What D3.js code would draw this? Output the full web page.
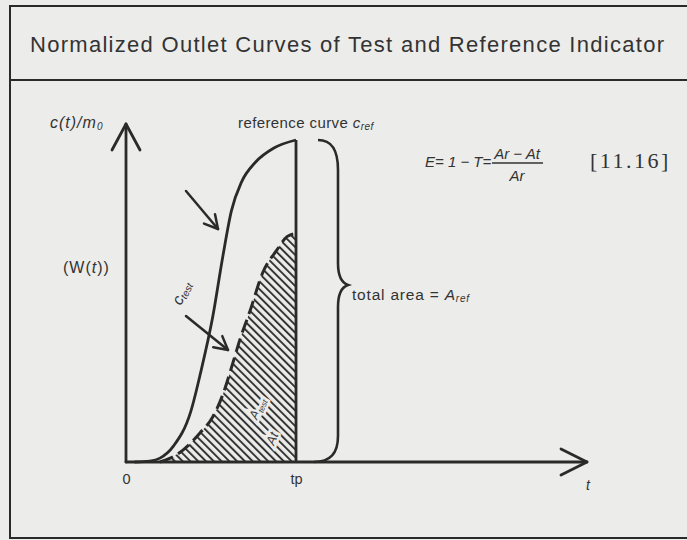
<!DOCTYPE html>
<html>
<head>
<meta charset="utf-8">
<script src="https://cdn.jsdelivr.net/npm/d3@7"></script>
<style>
  body { margin: 0; background: #ececea; }
  svg { display: block; }
</style>
</head>
<body>
<svg id="chart" width="687" height="540"></svg>
<script>
// Normalised time (t / tp) and normalised concentration of the reference indicator
const refT = [0.05, 0.14, 0.20, 0.28, 0.38, 0.44, 0.51, 0.57, 0.62, 0.68, 0.76, 0.87, 1.00];
const refV = [0.00, 0.003, 0.012, 0.05, 0.155, 0.28, 0.45, 0.64, 0.78, 0.87, 0.93, 0.975, 1.00];

// Same for the test indicator (dashed, hatched area)
const testT = [0.20, 0.26, 0.335, 0.435, 0.51, 0.57, 0.63, 0.67, 0.73, 0.806, 0.89, 0.947, 1.00];
const testV = [0.00, 0.012, 0.037, 0.09, 0.14, 0.21, 0.31, 0.38, 0.47, 0.59, 0.66, 0.70, 0.71];

const tickValues = [0, 1];
const tickLabels = ["0", "tp"];

const titleText = "Normalized Outlet Curves of Test and Reference Indicator";

const svg = d3.select("#chart");
const ink = "#2a2a2a";
const bg = "#ececea";
const sans = "Liberation Sans, Arial, sans-serif";

// Frame and title panel
svg.append("rect").attr("width", 687).attr("height", 540).attr("fill", bg);
const frame = svg.append("g").attr("stroke", ink).attr("stroke-width", 2).attr("fill", "none");
frame.append("path").attr("d", "M700,6 L10,6 L10,538 L700,538");
frame.append("line").attr("x1", 10).attr("x2", 700).attr("y1", 80).attr("y2", 80);

svg.append("text")
  .attr("x", 30).attr("y", 52)
  .attr("font-family", sans)
  .attr("font-size", 22)
  .attr("textLength", 634).attr("lengthAdjust", "spacing")
  .attr("fill", "#333")
  .text(titleText);

// Scales: t in units of tp, concentration normalised to the reference peak
const x = d3.scaleLinear().domain([0, 1]).range([126, 296]);
const y = d3.scaleLinear().domain([0, 1]).range([462, 140]);
const tMax = x.invert(587);
const vMax = y.invert(124);

const refData = refT.map((t, i) => [t, refV[i]]);
const testData = testT.map((t, i) => [t, testV[i]]);

// Hatch pattern for the area under the test curve
const defs = svg.append("defs");
const pat = defs.append("pattern")
  .attr("id", "hatch").attr("patternUnits", "userSpaceOnUse")
  .attr("width", 5.5).attr("height", 5.5)
  .attr("patternTransform", "rotate(-45)");
pat.append("line").attr("x1", 1).attr("y1", 0).attr("x2", 1).attr("y2", 5.5)
  .attr("stroke", "#2e2e2e").attr("stroke-width", 1.9);

const area = d3.area()
  .x(d => x(d[0])).y0(y(0)).y1(d => y(d[1]))
  .curve(d3.curveMonotoneX);
svg.append("path").datum(testData).attr("d", area).attr("fill", "url(#hatch)");

// Labels knocked out of the hatching
const knock = svg.append("g")
  .attr("font-family", sans)
  .attr("font-style", "italic")
  .attr("fill", "#3a3a3a")
  .attr("stroke", bg).attr("stroke-width", 5).attr("paint-order", "stroke");
const k1 = knock.append("text").attr("transform", `translate(${x(0.77)},${y(0.13)}) rotate(-68)`).attr("font-size", 13);
k1.append("tspan").text("A");
k1.append("tspan").attr("font-size", 8).attr("dy", 3).text("test");
knock.append("text").attr("transform", `translate(${x(0.87)},${y(0.05)}) rotate(-68)`)
  .attr("font-size", 13).text("At");

// Curves
const line = d3.line().x(d => x(d[0])).y(d => y(d[1])).curve(d3.curveMonotoneX);
svg.append("path").datum(refData).attr("d", line)
  .attr("fill", "none").attr("stroke", ink).attr("stroke-width", 2.8);
svg.append("path").datum(testData).attr("d", line)
  .attr("fill", "none").attr("stroke", ink).attr("stroke-width", 3)
  .attr("stroke-dasharray", "14 6");

// tp ordinate
svg.append("line")
  .attr("x1", x(1)).attr("x2", x(1)).attr("y1", y(0)).attr("y2", y(1))
  .attr("stroke", ink).attr("stroke-width", 2.8);

// Axes with open arrow heads
const axes = svg.append("g").attr("stroke", ink).attr("stroke-width", 2.8)
  .attr("fill", "none").attr("stroke-linecap", "round").attr("stroke-linejoin", "round");
axes.append("line").attr("x1", x(0)).attr("x2", x(0)).attr("y1", y(0)).attr("y2", y(vMax));
axes.append("path").attr("d", `M${x(0) - 14},${y(vMax) + 26} L${x(0)},${y(vMax)} L${x(0) + 14},${y(vMax) + 26}`);
axes.append("line").attr("x1", x(0)).attr("x2", x(tMax)).attr("y1", y(0)).attr("y2", y(0));
axes.append("path").attr("d", `M${x(tMax) - 26},${y(0) - 13} L${x(tMax)},${y(0)} L${x(tMax) - 26},${y(0) + 13}`);

const xAxis = d3.axisBottom(x).tickValues(tickValues)
  .tickFormat((d, i) => tickLabels[i]).tickSize(0).tickPadding(12);
const gx = svg.append("g").attr("transform", `translate(0,${y(0)})`).call(xAxis);
gx.select(".domain").remove();
gx.selectAll("text")
  .attr("font-family", sans)
  .attr("font-size", 14.5).attr("fill", "#333");

// Brace spanning the reference peak
const bx = x(1) + 22, by0 = y(1), by1 = y(0), bTip = y(0.55);
svg.append("path")
  .attr("d", `M${bx},${by0} C${bx + 14},${by0} ${bx + 20},${by0 + 10} ${bx + 20},${by0 + 30}
             L${bx + 20},${bTip - 22} C${bx + 20},${bTip - 8} ${bx + 24},${bTip - 2} ${bx + 30},${bTip}
             C${bx + 24},${bTip + 2} ${bx + 20},${bTip + 8} ${bx + 20},${bTip + 22}
             L${bx + 20},${by1 - 26} C${bx + 20},${by1 - 8} ${bx + 12},${by1} ${bx - 4},${by1}`)
  .attr("fill", "none").attr("stroke", ink).attr("stroke-width", 2.6);

// Pointer arrows
const arrows = svg.append("g").attr("stroke", ink).attr("stroke-width", 2.5)
  .attr("fill", "none").attr("stroke-linecap", "round").attr("stroke-linejoin", "round");
function pointer(x0, y0, x1, y1) {
  const a = Math.atan2(y1 - y0, x1 - x0), L = 15, s = 0.5;
  arrows.append("line").attr("x1", x0).attr("y1", y0).attr("x2", x1).attr("y2", y1);
  arrows.append("path").attr("d",
    `M${x1 - L * Math.cos(a - s)},${y1 - L * Math.sin(a - s)} L${x1},${y1} L${x1 - L * Math.cos(a + s)},${y1 - L * Math.sin(a + s)}`);
}
pointer(186, 191, 218, 229);
pointer(186, 316, 228, 350);

// Text annotations
const ann = svg.append("g").attr("font-family", sans).attr("fill", "#333");

const t1 = ann.append("text").attr("x", 238).attr("y", 128).attr("font-size", 15)
  .attr("letter-spacing", 0.4);
t1.append("tspan").text("reference curve ");
t1.append("tspan").attr("font-style", "italic").text("c");
t1.append("tspan").attr("font-style", "italic").attr("font-size", 10).attr("dy", 2).text("ref");

const t2 = ann.append("text").attr("x", 352).attr("y", 300).attr("font-size", 15.5)
  .attr("letter-spacing", 0.8);
t2.append("tspan").text("total area = ");
t2.append("tspan").attr("font-style", "italic").text("A");
t2.append("tspan").attr("font-style", "italic").attr("font-size", 10).attr("dy", 2).text("ref");

const t3 = ann.append("text").attr("x", 50).attr("y", 128).attr("font-size", 16)
  .attr("font-style", "italic").attr("letter-spacing", 1);
t3.append("tspan").text("c(t)/m");
t3.append("tspan").attr("font-size", 10).attr("dy", 2).text("0");

ann.append("text").attr("x", 63).attr("y", 273).attr("font-size", 16).attr("letter-spacing", 1)
  .html('(W(<tspan font-style="italic">t</tspan>))');

const t4 = ann.append("text").attr("transform", "translate(181,306) rotate(-64)")
  .attr("font-size", 16).attr("font-style", "italic");
t4.append("tspan").text("c");
t4.append("tspan").attr("font-size", 10).attr("dy", 2).text("test");

ann.append("text").attr("x", 586).attr("y", 490).attr("font-size", 14)
  .attr("font-style", "italic").text("t");

// Efficiency formula
const fy = 167;
const f = svg.append("g").attr("fill", "#333").attr("font-family", sans).attr("font-style", "italic").attr("font-size", 15);
f.append("text").attr("x", 425).attr("y", fy).text("E= 1 − T=");
f.append("text").attr("x", 517).attr("y", fy - 8).attr("text-anchor", "middle").text("Ar − At");
f.append("line").attr("x1", 492).attr("x2", 543).attr("y1", fy - 4).attr("y2", fy - 4)
  .attr("stroke", "#333").attr("stroke-width", 1.3);
f.append("text").attr("x", 517).attr("y", fy + 14).attr("text-anchor", "middle").text("Ar");
svg.append("text").attr("x", 590).attr("y", fy + 1)
  .attr("font-family", "Liberation Serif, Times New Roman, serif").attr("font-size", 22)
  .attr("letter-spacing", 2.5)
  .attr("fill", "#333").text("[11.16]");
</script>
</body>
</html>
